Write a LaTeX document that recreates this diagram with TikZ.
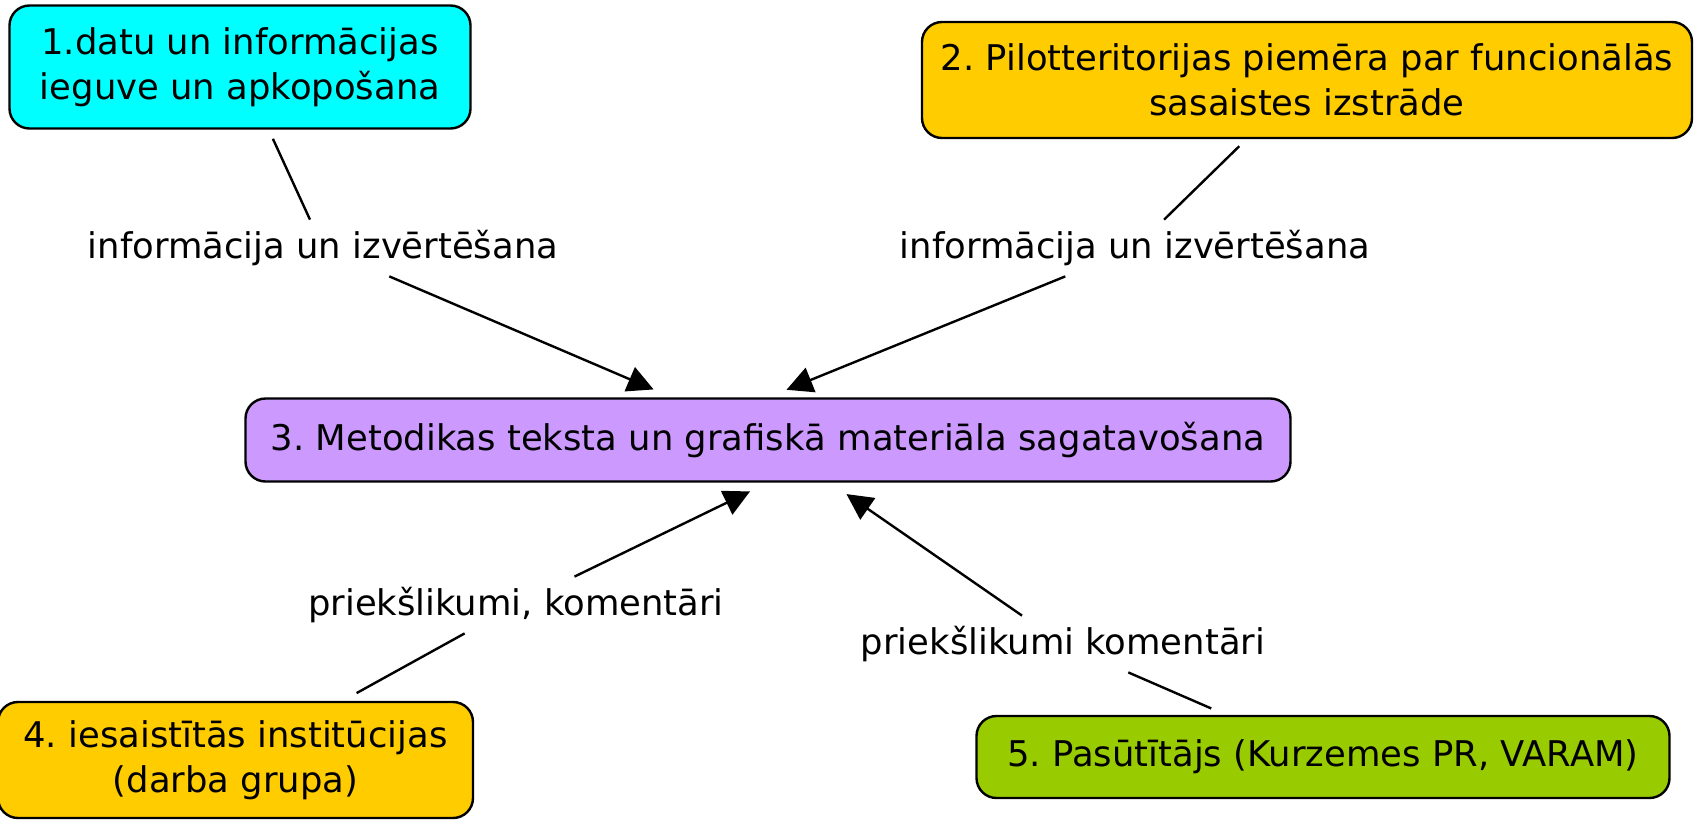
\documentclass[tikz,border=0pt]{standalone}
\usepackage{fontspec}
\setmainfont{DejaVu Sans}
\usetikzlibrary{arrows.meta, calc}
\definecolor{conceptCyan}{HTML}{00FFFF}
\definecolor{conceptGold}{HTML}{FFCC00}
\definecolor{conceptLilac}{HTML}{CC99FF}
\definecolor{conceptLime}{HTML}{99CC00}
\frenchspacing

\begin{document}
\begin{tikzpicture}[
    x=0.5pt, y=-0.5pt,
    concept/.style={draw, line width=1.2pt, rounded corners=10pt, align=center, inner sep=0pt, font=\fontsize{17.7}{22.5}\selectfont},
    linkword/.style={inner sep=0pt, minimum height=28pt, font=\fontsize{17.7}{22.5}\selectfont},
    link/.style={line width=1.2pt},
    arrow/.style={link, -{Triangle[length=13pt, width=13pt]}, shorten >=10pt}
  ]
  \useasboundingbox (0,0) rectangle (1706,825);

  % Concepts
  \node[concept, fill=conceptCyan, minimum width=230.5pt, minimum height=61.5pt] (datu) at (240,67) {1.datu un informācijas\\ieguve un apkopošana};
  \node[concept, fill=conceptGold, minimum width=385pt, minimum height=58pt] (pilot) at (1307,80) {2. Pilotteritorijas piemēra par funcionālās\\sasaistes izstrāde};
  \node[concept, fill=conceptLilac, minimum width=522.5pt, minimum height=41.5pt] (metod) at (768,440) {3. Metodikas teksta un grafiskā materiāla sagatavošana};
  \node[concept, fill=conceptGold, minimum width=237.5pt, minimum height=58pt] (inst) at (235.5,760) {4. iesaistītās institūcijas\\(darba grupa)};
  \node[concept, fill=conceptLime, minimum width=346.5pt, minimum height=41pt] (pasut) at (1323,757) {5. Pasūtītājs (Kurzemes PR, VARAM)};

  % Linking words
  \node[linkword] (info1) at (323,248) {informācija un izvērtēšana};
  \node[linkword] (info2) at (1135,248) {informācija un izvērtēšana};
  \node[linkword] (prop1) at (516,605) {priekšlikumi, komentāri};
  \node[linkword] (prop2) at (1063,644) {priekšlikumi komentāri};

  % Upper links
  \draw[link, shorten <=5pt] (datu) -- (info1);
  \draw[arrow] (info1) -- ($(metod.north)+(-96,0)$);
  \draw[link, shorten <=5pt] (pilot) -- (info2);
  \draw[arrow] (info2) -- (metod.north);

  % Lower links
  \draw[link, shorten <=8pt] (inst) -- (prop1);
  \draw[arrow] (prop1) -- (metod.south);
  \draw[link, shorten <=8pt] (pasut) -- (prop2);
  \draw[arrow] (prop2) -- ($(metod.south)+(62,0)$);

\end{tikzpicture}
\end{document}
